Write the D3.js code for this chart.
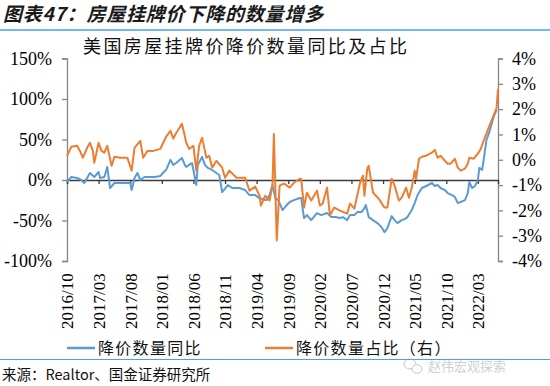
<!DOCTYPE html>
<html>
<head>
<meta charset="utf-8">
<script src="https://cdn.jsdelivr.net/npm/d3@7"></script>
<style>
  body { margin: 0; background: #fff; }
  svg { display: block; }
</style>
</head>
<body>
<svg width="550" height="386"></svg>
<script>
// Data ======================================================
// weekly series, points given as weeks since 2016-10-01
const startDate = new Date(2016, 9, 1);
const lastWeek = 300;

const tickLabels = ["2016/10", "2017/03", "2017/08", "2018/01", "2018/06", "2018/11", "2019/04",
                    "2019/09", "2020/02", "2020/07", "2020/12", "2021/05", "2021/10", "2022/03"];
const tickEveryWeeks = 22;

const leftTicks = [-100, -50, 0, 50, 100, 150];
const rightTicks = [-4, -3, -2, -1, 0, 1, 2, 3, 4];

// 降价数量同比 (left axis, %)
const yoyWeeks = [0, 3, 7, 10, 12, 16, 19, 22, 23, 26, 28, 30, 33, 40, 44, 45, 47, 49, 51, 54,
  61, 65, 68, 69, 72, 74, 76, 80, 82, 83, 85, 87, 90, 91, 94, 96, 98, 101, 104, 106,
  108, 112, 115, 120, 124, 127, 131, 134, 138, 139, 141, 143, 145, 147, 148, 150, 153, 155, 158, 162,
  163, 165, 167, 170, 174, 177, 181, 184, 187, 190, 192, 195, 197, 200, 202, 205, 207, 208, 210, 213,
  216, 219, 221, 223, 226, 228, 230, 233, 235, 237, 240, 242, 244, 247, 250, 254, 256, 258, 260, 263,
  265, 268, 270, 272, 274, 277, 279, 280, 282, 284, 286, 287, 289, 292, 294, 296, 297, 299];
const yoyValues = [-2.5, 3.7, 2.5, 0, -3.7, 8.7, 3.7, 9.9, 2.5, 3.7, 16.1, -9.9, -3.7, -3.7, -3.7, -12.4, 2.5, 8.7, 0, 3.7,
  3.7, 5.0, 11.1, 12.4, 24.8, 18.6, 21.0, 27.2, 18.6, 16.1, 18.6, 21.0, -6.2, 18.6, 28.5, 18.6, 14.9, 12.4, 8.7, 6.2,
  -14.9, -6.2, -9.9, -9.9, -12.4, -18.6, -18.6, -22.3, -24.8, -24.8, -18.6, -6.2, -22.3, -24.8, -28.5, -37.1, -30.9, -27.2, -24.8, -22.3,
  -22.3, -47.0, -43.3, -49.5, -40.8, -43.3, -40.8, -45.8, -45.8, -47.0, -45.8, -49.5, -43.3, -43.3, -39.6, -39.6, -34.7, -30.9, -45.8, -49.5,
  -53.2, -58.2, -64.4, -59.4, -44.6, -49.5, -53.2, -49.5, -48.3, -45.8, -37.1, -28.5, -18.6, -9.9, -7.4, -3.7, -7.4, -6.2, -9.9, -12.4,
  -16.1, -18.6, -21.0, -28.5, -27.2, -24.8, -16.1, -2.5, -9.9, -7.4, 0, 14.9, 12.4, 49.5, 59.4, 71.8, 78.0, 86.6];

// 降价数量占比 (right axis, %)
const shareWeeks = [0, 3, 7, 9, 11, 14, 16, 18, 19, 22, 24, 26, 28, 31, 33, 37, 42, 45, 47, 51,
  53, 56, 60, 65, 67, 69, 72, 74, 76, 80, 82, 83, 85, 88, 90, 92, 94, 96, 97, 99,
  101, 104, 108, 110, 113, 118, 124, 127, 131, 134, 135, 138, 141, 143, 144, 146, 148, 151, 155, 158,
  162, 163, 165, 167, 170, 174, 176, 178, 181, 183, 186, 190, 195, 197, 200, 204, 206, 207, 209, 210,
  213, 215, 217, 221, 223, 226, 228, 231, 233, 236, 238, 240, 242, 243, 245, 247, 250, 254, 256, 258,
  260, 263, 265, 267, 270, 272, 274, 277, 279, 280, 283, 286, 288, 290, 294, 296, 299, 300];
const shareValues = [0.16, 0.51, 0.55, 0.35, 0.08, 0.47, 0.67, 0.35, -0.12, 0.67, 0.35, 0.28, 0.55, -0.24, 0.12, 0.08, 0.08, -0.43, 0.47, 0.75,
  0.08, 0.35, 0.35, 0.43, 0.67, 0.91, 1.14, 0.83, 1.06, 1.42, 0.94, 0.67, 0.43, 0.55, -0.43, 0.55, 0.87, 0.35, 0.08, 0.16,
  -0.31, -0.04, -0.31, -0.71, -0.43, -0.71, -0.71, -1.22, -1.06, -1.42, -1.81, -1.42, -1.61, -1.02, 1.02, -3.19, -1.02, -0.94, -1.10, -0.91,
  -0.75, -0.75, -1.89, -1.30, -1.61, -1.22, -1.81, -1.73, -1.10, -2.20, -1.89, -2.01, -2.13, -1.73, -1.93, -0.91, -0.63, -1.42, -0.35, -0.24,
  -1.30, -1.42, -1.54, -1.89, -1.89, -0.75, -1.02, -1.61, -1.50, -1.10, -1.50, -1.10, -0.43, -0.75, 0.04, 0.12, 0.16, 0.28, 0.39, 0.08,
  0.16, -0.04, -0.16, -0.16, 0.04, -0.31, -0.43, -0.35, -0.16, 0.08, 0.04, 0.24, 0.43, 0.75, 1.34, 1.61, 2.05, 2.80];

// Setup =====================================================
const svg = d3.select("svg");
const serif = "'Liberation Serif', 'Times New Roman', serif";
const cjk = "'Noto Sans CJK SC', sans-serif";
const blue = "#5b9bd5", orange = "#ed7d31";
const plot = { left: 67, right: 498, top: 58.5, bottom: 261 };

function weekDate(w) { return d3.timeDay.offset(startDate, w * 7); }

const x = d3.scaleTime()
  .domain([startDate, weekDate(lastWeek)])
  .range([plot.left, plot.right]);
const yLeft = d3.scaleLinear().domain([-100, 150]).range([plot.bottom, plot.top]);
const yRight = d3.scaleLinear().domain([-4, 4]).range([plot.bottom, plot.top]);

// Header ====================================================
svg.append("text")
  .attr("x", 3).attr("y", 21)
  .attr("font-family", cjk).attr("font-size", 19).attr("font-weight", "bold")
  .attr("font-style", "italic").attr("letter-spacing", 0.8).attr("fill", "#1a1a1a")
  .text("图表47：房屋挂牌价下降的数量增多");

svg.append("line")
  .attr("x1", 0).attr("x2", 550).attr("y1", 30).attr("y2", 30)
  .attr("stroke", "#41a6e5").attr("stroke-width", 1.5);

svg.append("text")
  .attr("x", 83).attr("y", 53)
  .attr("font-family", cjk).attr("font-size", 18).attr("letter-spacing", 2.4)
  .attr("fill", "#111")
  .text("美国房屋挂牌价降价数量同比及占比");

// Axes ======================================================
const leftAxis = svg.append("g")
  .attr("transform", `translate(${plot.left},0)`)
  .call(d3.axisLeft(yLeft).tickValues(leftTicks).tickSize(5).tickPadding(10)
    .tickFormat(d => d + "%"));

const rightAxis = svg.append("g")
  .attr("transform", `translate(${plot.right},0)`)
  .call(d3.axisRight(yRight).tickValues(rightTicks).tickSize(5).tickPadding(9)
    .tickFormat(d => d + "%"));

[leftAxis, rightAxis].forEach(g => {
  g.select(".domain").attr("stroke", "#868686").attr("stroke-width", 1.3);
  g.selectAll(".tick line").attr("stroke", "#868686").attr("stroke-width", 1.3);
  g.selectAll(".tick text")
    .attr("font-family", serif).attr("font-size", 18).attr("fill", "#000");
});

// category axis sitting on the zero line
const tickDates = tickLabels.map((d, i) => weekDate(i * tickEveryWeeks));
const xAxis = svg.append("g")
  .attr("transform", `translate(0,${yLeft(0)})`)
  .call(d3.axisBottom(x).tickValues(tickDates).tickSize(4)
    .tickFormat((d, i) => tickLabels[i]));
xAxis.select(".domain").attr("stroke", "#3a3a3a").attr("stroke-width", 1.4);
xAxis.selectAll(".tick line").attr("stroke", "#3a3a3a").attr("stroke-width", 1.3);
xAxis.selectAll(".tick text")
  .attr("font-family", serif).attr("font-size", 17).attr("fill", "#000")
  .attr("text-anchor", "start")
  .attr("transform", `translate(0,${329 - yLeft(0)}) rotate(-90)`)
  .attr("x", 0).attr("y", 0).attr("dy", "0.35em");

// Series ====================================================
const yoyData = yoyWeeks.map((w, i) => ({ date: weekDate(w), value: yoyValues[i] }));
const shareData = shareWeeks.map((w, i) => ({ date: weekDate(w), value: shareValues[i] }));

svg.append("path")
  .datum(yoyData)
  .attr("fill", "none").attr("stroke", blue).attr("stroke-width", 2)
  .attr("stroke-linejoin", "round")
  .attr("d", d3.line().x(d => x(d.date)).y(d => yLeft(d.value)));

svg.append("path")
  .datum(shareData)
  .attr("fill", "none").attr("stroke", orange).attr("stroke-width", 2)
  .attr("stroke-linejoin", "round")
  .attr("d", d3.line().x(d => x(d.date)).y(d => yRight(d.value)));

// Legend ====================================================
const legendItems = [
  { label: "降价数量同比", color: blue, x: 67 },
  { label: "降价数量占比（右）", color: orange, x: 265 }
];
const legend = svg.append("g");
legendItems.forEach(item => {
  legend.append("line")
    .attr("x1", item.x).attr("x2", item.x + 28).attr("y1", 348).attr("y2", 348)
    .attr("stroke", item.color).attr("stroke-width", 2.5);
  legend.append("text")
    .attr("x", item.x + 31).attr("y", 354)
    .attr("font-family", cjk).attr("font-size", 16).attr("letter-spacing", 1.3)
    .attr("fill", "#111")
    .text(item.label);
});

// Footer ====================================================
svg.append("line")
  .attr("x1", 0).attr("x2", 550).attr("y1", 359.5).attr("y2", 359.5)
  .attr("stroke", "#41a6e5").attr("stroke-width", 1.2);

svg.append("text")
  .attr("x", 2).attr("y", 380)
  .attr("font-family", cjk).attr("font-size", 14.5).attr("fill", "#111")
  .text("来源：Realtor、国金证券研究所");

// watermark
const wm = svg.append("g").attr("opacity", 0.55);
wm.append("ellipse").attr("cx", 410).attr("cy", 364).attr("rx", 6).attr("ry", 5)
  .attr("fill", "none").attr("stroke", "#999").attr("stroke-width", 1);
wm.append("ellipse").attr("cx", 417).attr("cy", 369).attr("rx", 5).attr("ry", 4.2)
  .attr("fill", "#fff").attr("stroke", "#999").attr("stroke-width", 1);
wm.append("text")
  .attr("x", 428).attr("y", 371)
  .attr("font-family", cjk).attr("font-size", 13).attr("fill", "#aaa")
  .text("赵伟宏观探索");
</script>
</body>
</html>
